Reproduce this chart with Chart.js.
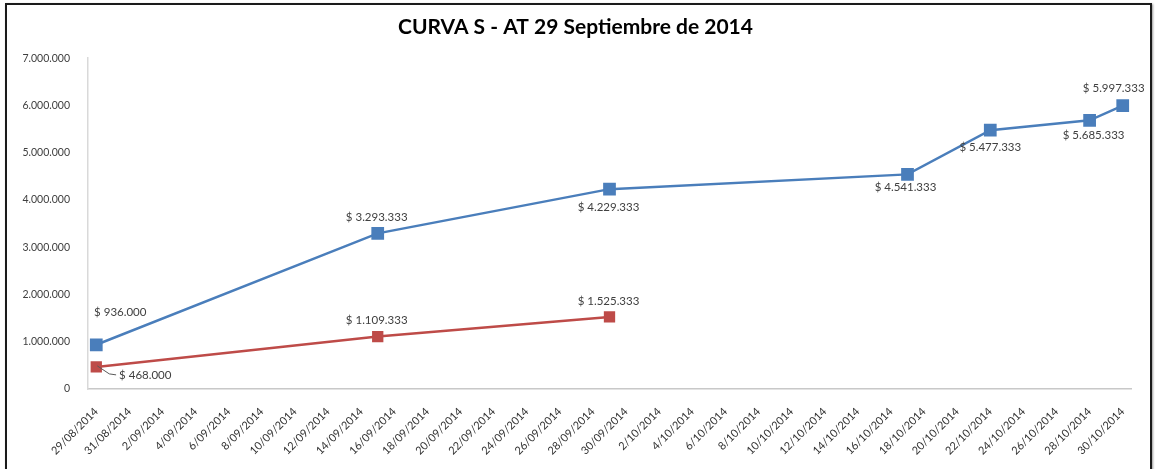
<!DOCTYPE html>
<html>
<head>
<meta charset="utf-8">
<script src="https://cdn.jsdelivr.net/npm/chart.js@4.4.1/dist/chart.umd.min.js"></script>
<style>
    body { margin: 0; background: #fff; }
    #wrap { position: relative; width: 1162px; height: 469px; overflow: hidden; background: #fff; }
    #marco { position: absolute; left: 5px; top: 3px; width: 1143px; height: 480px; border: 2px solid #1b1b1b; box-shadow: 1px 1px 2px #999; pointer-events: none; }
</style>
</head>
<body>
<div id="wrap">
    <canvas id="chartCurvaS" width="1162" height="469"></canvas>
    <div id="marco"></div>
</div>
<script>
// datos
const fechasProgramado = ['29/08/2014', '15/09/2014', '29/09/2014', '17/10/2014', '22/10/2014', '28/10/2014', '30/10/2014'];
const valoresProgramado = [936000, 3293333, 4229333, 4541333, 5477333, 5685333, 5997333];
const fechasEjecutado = ['29/08/2014', '15/09/2014', '29/09/2014'];
const valoresEjecutado = [468000, 1109333, 1525333];
const fechaInicio = '29/08/2014';
const fechaFin = '30/10/2014';

function formato(v) {
    return String(v).replace(/\B(?=(\d{3})+(?!\d))/g, '.');
}

function parseFecha(s) {
    const p = s.split('/');
    return new Date(+p[2], +p[1] - 1, +p[0]);
}

function textoFecha(d) {
    return d.getDate() + '/' + String(d.getMonth() + 1).padStart(2, '0') + '/' + d.getFullYear();
}

// todos los dias del eje (eje de fechas)
var dias = [];
for (var d = parseFecha(fechaInicio); d <= parseFecha(fechaFin); d.setDate(d.getDate() + 1)) {
    dias.push(textoFecha(d));
}

function puntos(fechas, valores) {
    return fechas.map(function (f, i) { return { x: f, y: valores[i] }; });
}

// etiquetas de datos: desplazamiento [dx, dy, linea guia]
const etiquetasPlugin = {
    id: 'etiquetas',
    afterDatasetsDraw: function (chart, args, opts) {
        const ctx = chart.ctx;
        ctx.save();
        ctx.font = '11.5px Lato';
        ctx.fillStyle = '#404040';
        ctx.textAlign = 'center';
        ctx.textBaseline = 'middle';
        chart.data.datasets.forEach(function (ds, i) {
            const meta = chart.getDatasetMeta(i);
            const offs = opts.offsets[i];
            meta.data.forEach(function (pt, j) {
                const o = offs[j];
                const tx = pt.x + o[0], ty = pt.y + o[1];
                const txt = '$ ' + formato(ds.data[j].y);
                if (o[2]) {
                    const w = ctx.measureText(txt).width;
                    ctx.strokeStyle = '#595959';
                    ctx.lineWidth = 1;
                    ctx.beginPath();
                    ctx.moveTo(pt.x + 1, pt.y - 1);
                    ctx.lineTo(pt.x + 13, pt.y + 7);
                    ctx.lineTo(tx - w / 2 - 3, ty);
                    ctx.stroke();
                }
                ctx.fillText(txt, tx, ty);
            });
        });
        ctx.restore();
    }
};

const ctxCurvaS = document.getElementById('chartCurvaS');
new Chart(ctxCurvaS, {
    type: 'line',
    data: {
        labels: dias,
        datasets: [{
            label: 'Programado',
            data: puntos(fechasProgramado, valoresProgramado),
            borderColor: '#4a7ebb',
            backgroundColor: '#4a7ebb',
            borderWidth: 2.5,
            pointStyle: 'rect',
            pointRadius: 9,
            pointHoverRadius: 9,
            pointBorderWidth: 0,
            tension: 0
        }, {
            label: 'Ejecutado',
            data: puntos(fechasEjecutado, valoresEjecutado),
            borderColor: '#be4b48',
            backgroundColor: '#be4b48',
            borderWidth: 2.5,
            pointStyle: 'rect',
            pointRadius: 8,
            pointHoverRadius: 8,
            pointBorderWidth: 0,
            tension: 0
        }]
    },
    options: {
        responsive: false,
        animation: false,
        devicePixelRatio: 1,
        layout: { padding: { left: 20, right: 31, top: 0, bottom: 0 } },
        plugins: {
            legend: { display: false },
            tooltip: { enabled: false },
            title: {
                display: true,
                text: 'CURVA S - AT 29 Septiembre de 2014',
                color: '#000',
                font: { family: 'Lato', size: 21, weight: 'bold', lineHeight: 1.2 },
                padding: { top: 15, bottom: 18 }
            },
            etiquetas: {
                offsets: [
                    [[24, -32], [-1, -16], [-1, 18], [-2, 13], [0, 17], [4, 15], [-9, -17]],
                    [[49, 8, true], [-1, -16], [-1, -16]]
                ]
            }
        },
        scales: {
            x: {
                type: 'category',
                offset: true,
                grid: { display: false },
                border: { display: true, color: '#c8c8c8', width: 1.5 },
                ticks: {
                    autoSkip: false,
                    minRotation: 45,
                    maxRotation: 45,
                    padding: 8,
                    color: '#333',
                    font: { family: 'Lato', size: 11 },
                    callback: function (val, i) { return i % 2 === 0 ? this.getLabelForValue(val) : ''; }
                },
                afterFit: function (scale) { scale.height = 80; }
            },
            y: {
                min: 0,
                max: 7000000,
                grid: { display: false },
                border: { display: true, color: '#d9d9d9', width: 1.5 },
                ticks: {
                    stepSize: 1000000,
                    padding: 10,
                    color: '#404040',
                    font: { family: 'Lato', size: 10.5 },
                    callback: function (v) { return formato(v); }
                },
                afterFit: function (scale) { scale.width = 68; }
            }
        }
    },
    plugins: [etiquetasPlugin]
});
</script>
</body>
</html>
